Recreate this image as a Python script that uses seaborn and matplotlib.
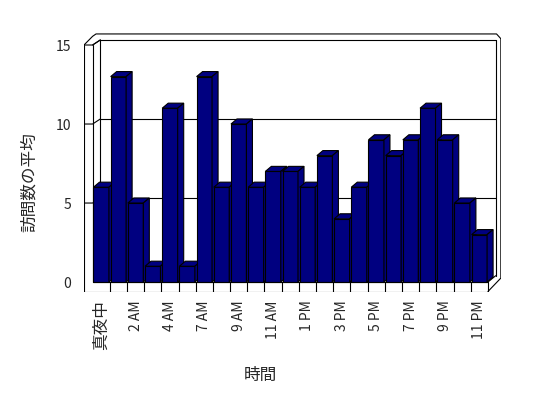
import matplotlib
matplotlib.use("Agg")
import matplotlib.pyplot as plt
from matplotlib.patches import Polygon
import seaborn as sns

# hourly data (6 AM is missing in the source chart)
hours = ["真夜中", "1 AM", "2 AM", "3 AM", "4 AM", "5 AM", "7 AM", "8 AM",
         "9 AM", "10 AM", "11 AM", "正午", "1 PM", "2 PM", "3 PM", "4 PM",
         "5 PM", "6 PM", "7 PM", "8 PM", "9 PM", "10 PM", "11 PM"]
visits = [6, 13, 5, 1, 11, 1, 13, 6, 10, 6, 7, 7,
          6, 8, 4, 6, 9, 8, 9, 11, 9, 5, 3]
y_ticks = [0, 5, 10, 15]

BAR_COLOR = "#000080"
DX, DY = 0.35, 0.32      # bar depth (category units, value units)
WDX, WDY = 0.45, 0.32    # back wall offset
LW = 0.8

sns.set_style("white")
plt.rcParams["font.family"] = ["Noto Sans CJK JP", "DejaVu Sans"]

fig = plt.figure(figsize=(5.48, 3.98), dpi=100)
ax = fig.add_axes([84 / 548, 106 / 398, 417 / 548, 259 / 398])

sns.barplot(x=hours, y=visits, order=hours, color=BAR_COLOR, saturation=1,
            width=0.9, edgecolor="black", linewidth=LW, ax=ax)

# fake 3d: top and side faces for each bar, later bars cover earlier ones
for i, p in enumerate(ax.patches):
    z = 3 + i * 0.01
    p.set_zorder(z)
    x0, w, h = p.get_x(), p.get_width(), p.get_height()
    top = [(x0, h), (x0 + DX, h + DY), (x0 + w + DX, h + DY), (x0 + w, h)]
    side = [(x0 + w, 0), (x0 + w + DX, DY), (x0 + w + DX, h + DY), (x0 + w, h)]
    for pts in (top, side):
        ax.add_patch(Polygon(pts, closed=True, facecolor=BAR_COLOR,
                             edgecolor="black", linewidth=LW, zorder=z))

n = len(hours)
left, right = -0.5, n - 0.5
ymax = y_ticks[-1]

# back wall and gridlines
for v in y_ticks[1:]:
    ax.plot([left + WDX, right + WDX], [v + WDY, v + WDY], color="black", lw=LW, zorder=1)
    ax.plot([left - 0.5, left, left + WDX], [v, v, v + WDY], color="black", lw=LW, zorder=1)
ax.plot([left + WDX, left + WDX], [WDY, ymax + WDY], color="black", lw=LW, zorder=1)
ax.plot([right + WDX, right + WDX], [0.4, ymax + WDY], color="black", lw=LW, zorder=1)

# left wall slab
ax.plot([left - 0.5, left - 0.5], [-0.6, ymax], color="black", lw=LW, zorder=6)
ax.plot([left, left], [0, ymax], color="black", lw=LW, zorder=6)
ax.plot([left, left + WDX], [ymax, ymax + WDY], color="black", lw=LW, zorder=1)

# outer frame of back/right walls
ax.plot([left - 0.5, left, left + 0.2, right + 0.5, right + 0.75, right + 0.75, right],
        [ymax, ymax + 0.55, ymax + 0.7, ymax + 0.7, ymax + 0.4, 0.25, -0.6],
        color="black", lw=LW, zorder=1)

# floor front strip with category dividers
ax.plot([left, right], [0, 0], color="black", lw=LW, zorder=6)
ax.plot([left - 0.5, right], [-0.6, -0.6], color="black", lw=LW, zorder=6)
ax.plot([right, right], [-0.6, 0], color="black", lw=LW, zorder=6)
ax.plot([right, right + WDX], [0, 0.4], color="black", lw=LW, zorder=6)
for k in range(1, n):
    ax.plot([left + k, left + k], [-0.6, 0], color="black", lw=LW, zorder=6)

ax.set_xlim(-1.0, right + 0.76)
ax.set_ylim(-0.63, 15.76)
for s in ax.spines.values():
    s.set_visible(False)

ax.set_xticks(range(0, n, 2))
ax.set_xticklabels(hours[::2], rotation=90, fontsize=10)
ax.get_xticklabels()[0].set_fontsize(12)
ax.set_yticks(y_ticks)
ax.set_yticklabels([str(v) for v in y_ticks], fontsize=10)
ax.tick_params(axis="x", length=0, pad=6)
ax.tick_params(axis="y", length=0, pad=9)
ax.set_xlabel("")
ax.set_ylabel("")

fig.text(29 / 548, 1 - 182 / 398, "訪問数の平均", rotation=90,
         ha="center", va="center", fontsize=12)
fig.text(260 / 548, 1 - 375 / 398, "時間", ha="center", va="center", fontsize=12)

fig.savefig("out.png", dpi=100)
